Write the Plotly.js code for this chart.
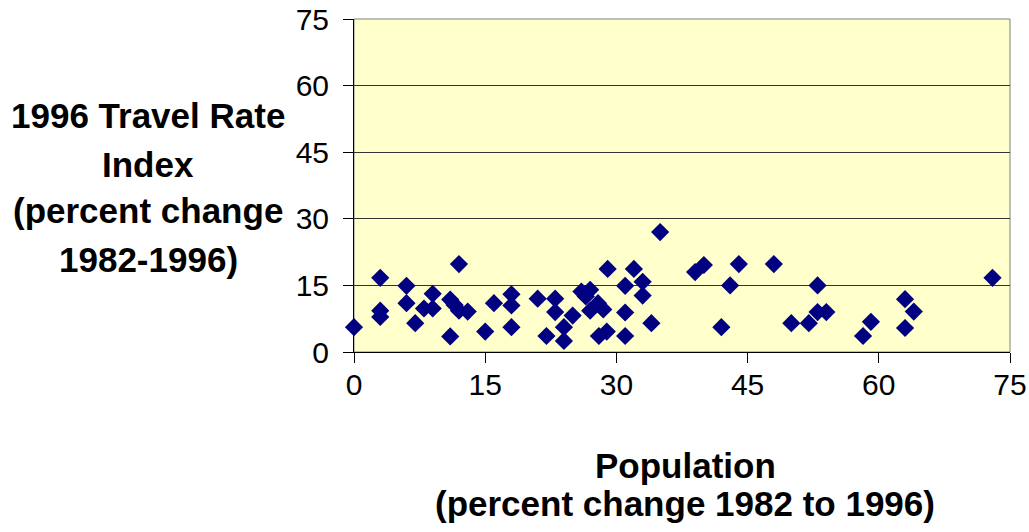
<!DOCTYPE html>
<html>
<head>
<meta charset="utf-8">
<script src="https://cdn.plot.ly/plotly-3.0.1.min.js"></script>
<style>
  html, body { margin: 0; padding: 0; background: #ffffff; }
  #chart { width: 1029px; height: 532px; }
</style>
</head>
<body>
<div id="chart"></div>
<script>
// Population change (percent, 1982 to 1996)
const popChange = [
  0, 3, 3, 3, 6, 6, 7, 8, 9, 9,
  11, 11.5, 12, 13, 11, 12, 15, 16, 18, 18,
  18, 21, 23, 23, 22, 24, 24, 25, 26, 27,
  26.5, 27.9, 28.5, 27, 28.9, 28, 29, 32, 31, 33,
  33, 31, 34, 31, 35, 39, 40, 44, 48, 43,
  42, 50, 52, 53, 53, 54, 58.2, 59.1, 63, 64,
  63, 73
];
// 1996 Travel Rate Index (percent change 1982-1996)
const travelChange = [
  5.6, 16.7, 9.3, 7.9, 14.9, 11, 6.5, 9.8, 13.1, 9.8,
  11.8, 10.6, 9.3, 9.1, 3.5, 19.8, 4.6, 11, 13, 10.5,
  5.6, 12, 12, 9, 3.6, 5.6, 2.5, 8.2, 13.6, 14,
  12.5, 11, 9.6, 9.3, 4.6, 3.6, 18.7, 18.7, 14.9, 15.8,
  12.7, 8.9, 6.5, 3.6, 27, 18, 19.6, 19.8, 19.8, 15,
  5.6, 6.5, 6.5, 15, 9, 9, 3.6, 6.8, 11.9, 9.1,
  5.4, 16.7
];
const tickValues = [0, 15, 30, 45, 60, 75];
const yTitleLines = ["1996 Travel Rate", "Index", "(percent change", "1982-1996)"];
const xTitleLines = ["Population", "(percent change 1982 to 1996)"];

const FONT = "Liberation Sans, Arial, Helvetica, sans-serif";
const W = 1029, H = 532;
const M = {l: 354, r: 19, t: 19, b: 180};
const pw = W - M.l - M.r, ph = H - M.t - M.b;
const px2paperX = p => (p - M.l) / pw;
const px2paperY = p => (H - M.b - p) / ph;

const yTitleCenters = [115.5, 164.5, 210.5, 259.5];
const xTitleCenters = [465, 503];

const annotations = [];
yTitleLines.forEach((t, i) => {
  annotations.push({
    text: t, xref: 'paper', yref: 'paper',
    x: px2paperX(148), y: px2paperY(yTitleCenters[i]),
    xanchor: 'center', yanchor: 'middle', showarrow: false,
    font: {family: FONT, size: 35, color: '#000000', weight: 'bold'}
  });
});
xTitleLines.forEach((t, i) => {
  annotations.push({
    text: t, xref: 'paper', yref: 'paper',
    x: px2paperX(685), y: px2paperY(xTitleCenters[i]),
    xanchor: 'center', yanchor: 'middle', showarrow: false,
    font: {family: FONT, size: 35, color: '#000000', weight: 'bold'}
  });
});

const trace = {
  type: 'scatter', mode: 'markers',
  x: popChange, y: travelChange,
  cliponaxis: false,
  marker: {symbol: 'diamond', size: 14, color: '#000080', line: {width: 0}},
  hoverinfo: 'x+y'
};

const layout = {
  width: W, height: H,
  margin: M,
  paper_bgcolor: '#ffffff',
  plot_bgcolor: '#FFFFCC',
  showlegend: false,
  font: {family: FONT, size: 30, color: '#000000'},
  xaxis: {
    range: [0, 75], tickvals: tickValues, ticktext: tickValues.map(String),
    showgrid: false, zeroline: false,
    showline: true, linecolor: '#000000', linewidth: 1,
    ticks: 'outside', ticklen: 10, tickcolor: '#000000', tickwidth: 1,
    tickfont: {family: FONT, size: 30, color: '#000000'},
    ticklabelstandoff: -4,
    fixedrange: true
  },
  yaxis: {
    range: [0, 75], tickvals: tickValues, ticktext: tickValues.map(String),
    showgrid: true, gridcolor: '#333333', gridwidth: 1, zeroline: false,
    showline: true, linecolor: '#000000', linewidth: 1,
    ticks: 'outside', ticklen: 10, tickcolor: '#000000', tickwidth: 1,
    tickfont: {family: FONT, size: 30, color: '#000000'},
    ticklabelstandoff: 8,
    fixedrange: true
  },
  shapes: [{
    type: 'rect', xref: 'paper', yref: 'paper', x0: 0, x1: 1, y0: 0, y1: 1,
    line: {color: '#808080', width: 1}, fillcolor: 'rgba(0,0,0,0)', layer: 'below'
  }],
  annotations: annotations
};

Plotly.newPlot('chart', [trace], layout, {staticPlot: true, displayModeBar: false});
</script>
</body>
</html>
